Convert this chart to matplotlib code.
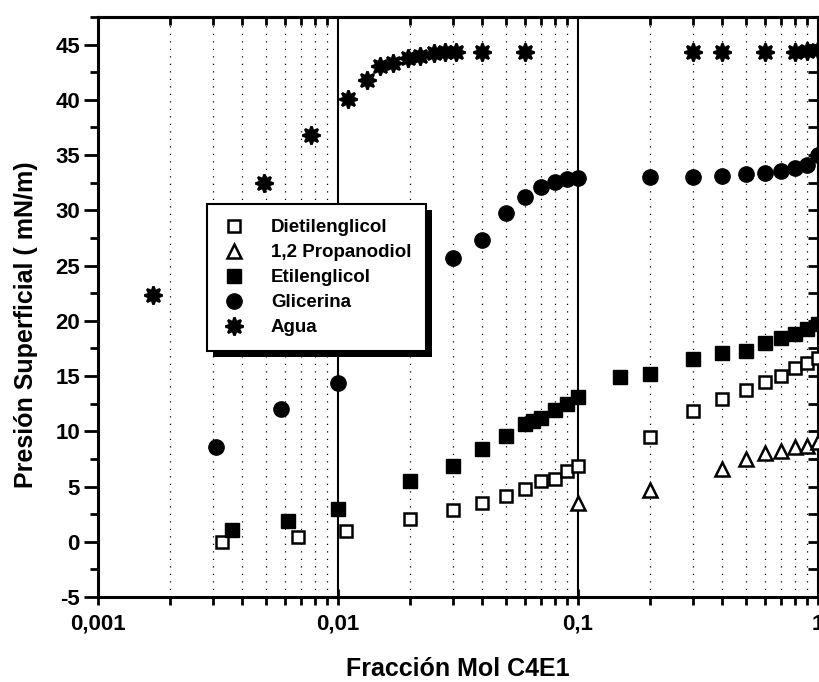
import matplotlib
matplotlib.use("Agg")
import matplotlib.pyplot as plt
from matplotlib.ticker import FixedLocator, FixedFormatter, MultipleLocator
from matplotlib.patches import Rectangle
from matplotlib.transforms import IdentityTransform
from matplotlib import font_manager

# ---- data -------------------------------------------------------------
dietil_x = [0.0033, 0.0068, 0.0108, 0.02, 0.03, 0.04, 0.05, 0.06, 0.07, 0.08,
            0.09, 0.1, 0.2, 0.3, 0.4, 0.5, 0.6, 0.7, 0.8, 0.9, 1.0]
dietil_y = [0.0, 0.4, 1.0, 2.1, 2.9, 3.5, 4.1, 4.8, 5.5, 5.7,
            6.4, 6.9, 9.5, 11.8, 12.9, 13.7, 14.5, 15.0, 15.7, 16.2, 16.6]

propan_x = [0.1, 0.2, 0.4, 0.5, 0.6, 0.7, 0.8, 0.9, 1.0]
propan_y = [3.5, 4.7, 6.6, 7.5, 8.0, 8.2, 8.6, 8.7, 9.0]

etil_x = [0.0036, 0.0062, 0.01, 0.02, 0.03, 0.04, 0.05, 0.06, 0.065, 0.07,
          0.08, 0.09, 0.1, 0.15, 0.2, 0.3, 0.4, 0.5, 0.6, 0.7, 0.8, 0.9, 1.0]
etil_y = [1.1, 1.9, 3.0, 5.5, 6.9, 8.4, 9.6, 10.7, 10.9, 11.2,
          11.9, 12.5, 13.1, 14.9, 15.2, 16.5, 17.1, 17.3, 18.0, 18.4, 18.8, 19.3, 19.7]

glic_x = [0.0031, 0.0058, 0.01, 0.03, 0.04, 0.05, 0.06, 0.07, 0.08, 0.09,
          0.1, 0.2, 0.3, 0.4, 0.5, 0.6, 0.7, 0.8, 0.9, 1.0]
glic_y = [8.6, 12.0, 14.4, 25.7, 27.3, 29.8, 31.2, 32.1, 32.6, 32.8,
          32.9, 33.0, 33.0, 33.1, 33.3, 33.4, 33.6, 33.8, 34.1, 35.0]

agua_x = [0.0017, 0.0049, 0.0077, 0.011, 0.0132, 0.015, 0.017, 0.0195, 0.022,
          0.025, 0.028, 0.031, 0.04, 0.06, 0.3, 0.4, 0.6, 0.8, 0.9, 1.0]
agua_y = [22.3, 32.5, 36.8, 40.1, 41.8, 43.1, 43.3, 43.8, 44.0,
          44.2, 44.3, 44.3, 44.3, 44.3, 44.3, 44.3, 44.3, 44.3, 44.4, 44.5]

series_names = ["Dietilenglicol", "1,2 Propanodiol", "Etilenglicol", "Glicerina", "Agua"]

x_major = [0.001, 0.01, 0.1, 1.0]
x_major_labels = ["0,001", "0,01", "0,1", "1"]

# ---- fonts ------------------------------------------------------------
available = {f.name for f in font_manager.fontManager.ttflist}
family = "Liberation Sans Narrow" if "Liberation Sans Narrow" in available else "Liberation Sans"
plt.rcParams["font.family"] = [family, "DejaVu Sans"]
plt.rcParams["font.weight"] = "bold"
plt.rcParams["axes.unicode_minus"] = False

fig = plt.figure(figsize=(8.2, 6.82), dpi=100)
ax = fig.add_axes([98 / 820, 85 / 682, 720 / 820, 580 / 682])

ax.set_xscale("log")
ax.set_xlim(0.001, 1.0)
ax.set_ylim(-5, 47.5)

# vertical grid: dotted at minor positions, solid at decades
minor_pos = [m * d for d in (0.001, 0.01, 0.1) for m in range(2, 10)]
for xm in minor_pos:
    ax.axvline(xm, color="black", lw=0.9, ls=(0, (1, 5)), zorder=1)
for xd in (0.01, 0.1):
    ax.axvline(xd, color="black", lw=1.5, zorder=1)

ms_kw = dict(linestyle="none", zorder=3, clip_on=True)
h1, = ax.plot(dietil_x, dietil_y, marker="s", ms=8.5, mfc="white", mec="black", mew=1.8, **ms_kw)
h2, = ax.plot(propan_x, propan_y, marker="^", ms=9.5, mfc="white", mec="black", mew=1.8, **ms_kw)
h3, = ax.plot(etil_x, etil_y, marker="s", ms=10, mfc="black", mec="black", mew=1, **ms_kw)
h4, = ax.plot(glic_x, glic_y, marker="o", ms=11, mfc="black", mec="black", mew=1, **ms_kw)
h5, = ax.plot(agua_x, agua_y, marker=(8, 1, 0), ms=13, mfc="black", mec="black", mew=1.8, **ms_kw)

# axes frame and ticks
for sp in ax.spines.values():
    sp.set_linewidth(2.2)

ax.xaxis.set_major_locator(FixedLocator(x_major))
ax.xaxis.set_major_formatter(FixedFormatter(x_major_labels))
ax.xaxis.set_minor_locator(FixedLocator(minor_pos))
ax.yaxis.set_major_locator(MultipleLocator(5))
ax.yaxis.set_minor_locator(MultipleLocator(2.5))

ax.tick_params(axis="x", which="both", bottom=True, top=False, width=2)
ax.tick_params(axis="x", which="major", direction="inout", length=12, labelsize=16, pad=6)
ax.tick_params(axis="x", which="minor", direction="out", length=6)
ax.tick_params(axis="y", which="both", left=True, right=False, width=2)
ax.tick_params(axis="y", which="major", direction="out", length=10, labelsize=16, pad=3)
ax.tick_params(axis="y", which="minor", direction="out", length=6)

# top and right ticks point inward
ax2x = ax.secondary_xaxis("top")
ax2x.xaxis.set_major_locator(FixedLocator(x_major))
ax2x.xaxis.set_minor_locator(FixedLocator(minor_pos))
ax2x.tick_params(which="both", direction="in", width=2, labeltop=False)
ax2x.tick_params(which="major", length=0)
ax2x.tick_params(which="minor", length=6)
ax2x.spines["top"].set_linewidth(2.2)

ax2y = ax.secondary_yaxis("right")
ax2y.yaxis.set_major_locator(MultipleLocator(5))
ax2y.yaxis.set_minor_locator(MultipleLocator(2.5))
ax2y.tick_params(which="both", direction="in", width=2, labelright=False, length=7)
ax2y.spines["right"].set_linewidth(2.2)

for lab in ax.get_xticklabels() + ax.get_yticklabels():
    lab.set_fontweight("bold")

ax.set_xlabel("Fracción Mol C4E1", fontsize=18, fontweight="bold", labelpad=16)
ax.set_ylabel("Presión Superficial ( mN/m)", fontsize=18, fontweight="bold")
ax.yaxis.set_label_coords(-0.083, 0.47)

leg = ax.legend([h1, h2, h3, h4, h5], series_names,
                loc="upper left", bbox_to_anchor=(207 / 820, 1 - 204 / 682),
                bbox_transform=fig.transFigure, borderaxespad=0,
                fancybox=False, frameon=True, edgecolor="black", framealpha=1,
                prop={"size": 13.5, "weight": "bold", "family": [family, "DejaVu Sans"]},
                handletextpad=1.3, labelspacing=0.42, borderpad=0.8, handlelength=1.3)
leg.get_frame().set_linewidth(1.5)
leg.set_zorder(6)

# solid drop shadow under the legend box
fig.canvas.draw()
bb = leg.get_window_extent()
off = 6
shadow = Rectangle((bb.x0 + off, bb.y0 - off), bb.width, bb.height,
                   transform=IdentityTransform(), facecolor="black",
                   edgecolor="none", zorder=5, clip_on=False)
ax.add_artist(shadow)

fig.savefig("out.png", dpi=100)
